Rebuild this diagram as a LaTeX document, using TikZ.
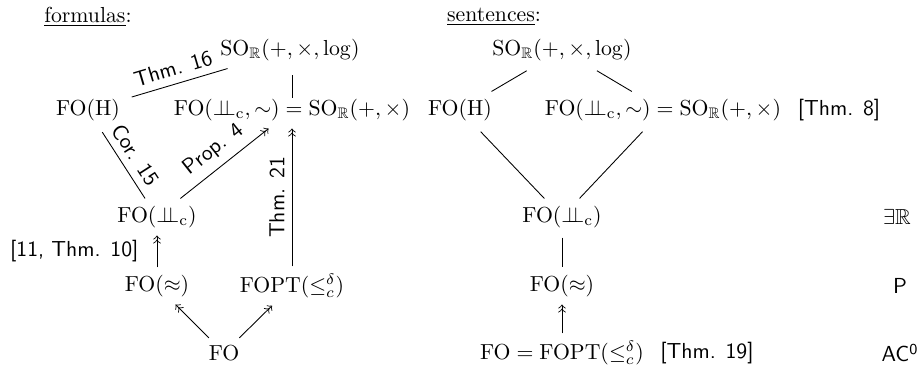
\documentclass[tikz,border=0pt]{standalone}
\usepackage{amsmath}
\usepackage{amsfonts}
\usepackage{amssymb}
\usepackage{tikz}

\newcommand{\indep}{{\perp\!\!\!\perp}}

\begin{document}
\begin{tikzpicture}[x=0.46pt, y=-0.46pt, lbl/.style={font=\sffamily}]
        \useasboundingbox (0,0) rectangle (920,368);

        % formulas
        \node (hform) at (88,17) {\underline{formulas}:};
        \node (fso) at (290,50) {$\mathrm{SO}_{\mathbb{R}}(+,\times,\log)$};
        \node (fh) at (88,110) {$\mathrm{FO}(\mathrm{H})$};
        \node (feq) at (292,110) {$\mathrm{FO}(\indep_{\mathrm{c}},\sim) = \mathrm{SO}_{\mathbb{R}}(+,\times)$};
        \node (fi) at (157,217) {$\mathrm{FO}(\indep_{\mathrm{c}})$};
        \node (fapprox) at (157,286) {$\mathrm{FO}(\approx)$};
        \node (fopt) at (292,286) {$\mathrm{FOPT}(\leq^{\delta}_{c})$};
        \node (ffo) at (224,353) {$\mathrm{FO}$};

        \draw ([yshift=-3pt]fso.south -| feq.north) -- ([yshift=-3pt]feq.north);
        \draw[shorten <=2pt] (fh) -- node[lbl, midway, above, sloped] {Thm. 16} (fso);
        \draw[shorten <=2pt] (fh) -- node[lbl, midway, above, sloped] {Cor. 15} (fi);
        \draw[->>] (fi) -- node[lbl, midway, above, sloped] {Prop. 4} (feq);
        \draw[->>] (fopt) -- node[lbl, midway, above, sloped] {Thm. 21} (feq);
        \draw[->>] (fapprox) -- node[lbl, midway, left=5pt] {[11, Thm. 10]} (fi);
        \draw[->>] (ffo) -- (fapprox);
        \draw[->>] (ffo) -- (fopt);

        % sentences
        \node (hsent) at (494,17) {\underline{sentences}:};
        \node (sso) at (562,50) {$\mathrm{SO}_{\mathbb{R}}(+,\times,\log)$};
        \node (sh) at (460,110) {$\mathrm{FO}(\mathrm{H})$};
        \node (seq) at (663,110) {$\mathrm{FO}(\indep_{\mathrm{c}},\sim) = \mathrm{SO}_{\mathbb{R}}(+,\times)$};
        \node[lbl] (thm8) at (839,110) {[Thm. 8]};
        \node (si) at (562,217) {$\mathrm{FO}(\indep_{\mathrm{c}})$};
        \node (sapprox) at (562,286) {$\mathrm{FO}(\approx)$};
        \node (sfo) at (562,353) {$\mathrm{FO} = \mathrm{FOPT}(\leq^{\delta}_{c})$};
        \node[lbl] (thm19) at (707,353) {[Thm. 19]};

        \draw[shorten <=2pt] (sso) -- (sh);
        \draw[shorten <=2pt] (sso) -- (seq);
        \draw[shorten <=2pt] (sh) -- (si);
        \draw[shorten <=2pt] (seq) -- (si);
        \draw[shorten <=1pt] (si) -- (sapprox);
        \draw[->>] (sfo) -- (sapprox);

        % complexity
        \node (cer) at (897,217) {$\exists\mathbb{R}$};
        \node[lbl] (cp) at (900,286) {P};
        \node[lbl] (cac) at (900,353) {AC\textsuperscript{0}};
    \end{tikzpicture}
\end{document}
